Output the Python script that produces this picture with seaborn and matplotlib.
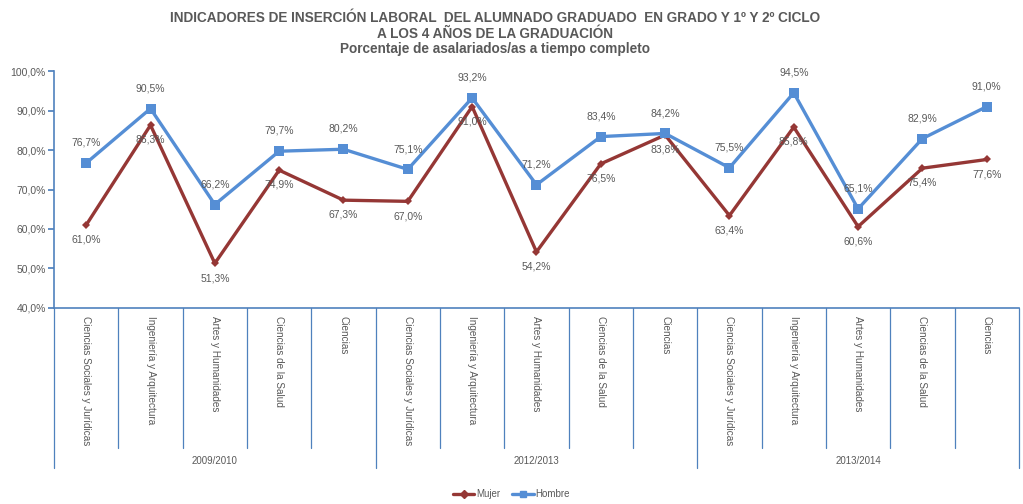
import numpy as np
import pandas as pd
import matplotlib
matplotlib.use("Agg")
import matplotlib.pyplot as plt
import matplotlib.transforms as mtransforms
import seaborn as sns

# datos
cursos = ["2009/2010", "2012/2013", "2013/2014"]
ramas = ["Ciencias Sociales y Jurídicas", "Ingeniería y Arquitectura",
         "Artes y Humanidades", "Ciencias de la Salud", "Ciencias"]
mujer = [61.0, 86.3, 51.3, 74.9, 67.3,
         67.0, 91.0, 54.2, 76.5, 83.8,
         63.4, 85.8, 60.6, 75.4, 77.6]
hombre = [76.7, 90.5, 66.2, 79.7, 80.2,
          75.1, 93.2, 71.2, 83.4, 84.2,
          75.5, 94.5, 65.1, 82.9, 91.0]
yticks = [40, 50, 60, 70, 80, 90, 100]

sns.set_theme(style="white")
plt.rcParams['font.family'] = ['Liberation Sans', 'DejaVu Sans']

GRIS = "#595959"
AZUL_EJE = "#4F81BD"
col_mujer = "#953735"
col_hombre = "#558ED5"

n = len(mujer)
pos = np.arange(n)
df = pd.DataFrame({
    "pos": np.concatenate([pos, pos]),
    "valor": mujer + hombre,
    "sexo": ["Mujer"] * n + ["Hombre"] * n,
})

fig = plt.figure(figsize=(10.23, 5.04), dpi=100)
ax = fig.add_axes([0.0528, 0.389, 0.9432, 0.470])

sns.lineplot(data=df, x="pos", y="valor", hue="sexo", style="sexo",
             palette={"Mujer": col_mujer, "Hombre": col_hombre},
             markers={"Mujer": "D", "Hombre": "s"},
             dashes=False, linewidth=2.4, markeredgewidth=0,
             ax=ax, legend=False)
for line, ms in zip(ax.lines, [4.5, 7.5]):
    line.set_markersize(ms)

# etiquetas de datos
for x, v in zip(pos, hombre):
    ax.annotate(f"{v:.1f}%".replace(".", ","), (x, v), xytext=(0, 11),
                textcoords="offset points", ha="center", va="bottom",
                fontsize=7.5, color=GRIS)
for x, v in zip(pos, mujer):
    ax.annotate(f"{v:.1f}%".replace(".", ","), (x, v), xytext=(0, -7),
                textcoords="offset points", ha="center", va="top",
                fontsize=7.5, color=GRIS)

ax.set_xlim(-0.5, n - 0.5)
ax.set_ylim(40, 100)
ax.set_yticks(yticks)
ax.set_yticklabels([f"{t:.1f}%".replace(".", ",") for t in yticks],
                   fontsize=7.5, color=GRIS)
ax.tick_params(axis="y", length=4, color=AZUL_EJE, direction="out", left=True, pad=2)
ax.set_xticks(pos)
ax.set_xticklabels(ramas * len(cursos), rotation=270, fontsize=7.2,
                   color=GRIS, va="top", ha="center")
ax.tick_params(axis="x", length=0, pad=6)
ax.set_xlabel("")
ax.set_ylabel("")
for s in ["top", "right"]:
    ax.spines[s].set_visible(False)
for s in ["left", "bottom"]:
    ax.spines[s].set_color(AZUL_EJE)
    ax.spines[s].set_linewidth(1.2)

# separadores del eje de categorias
trans = mtransforms.blended_transform_factory(ax.transData, ax.transAxes)
for b in np.arange(-0.5, n, 1.0):
    grupo = (b + 0.5) % len(ramas) == 0
    y0 = -0.675 if grupo else -0.59
    ax.plot([b, b], [0, y0], transform=trans, color=AZUL_EJE,
            linewidth=0.9, clip_on=False)
for i, c in enumerate(cursos):
    ax.text(i * len(ramas) + 2, -0.648, c, transform=trans, ha="center",
            va="center", fontsize=7, color=GRIS)

# titulo
fig.text(0.484, 0.964, "INDICADORES DE INSERCIÓN LABORAL  DEL ALUMNADO GRADUADO  EN GRADO Y 1º Y 2º CICLO",
         ha="center", va="center", fontsize=9.8, fontweight="bold", color=GRIS)
fig.text(0.484, 0.933, "A LOS 4 AÑOS DE LA GRADUACIÓN",
         ha="center", va="center", fontsize=9.8, fontweight="bold", color=GRIS)
fig.text(0.484, 0.902, "Porcentaje de asalariados/as a tiempo completo",
         ha="center", va="center", fontsize=9.8, fontweight="bold", color=GRIS)

handles = [plt.Line2D([], [], color=col_mujer, marker="D", markersize=4, linewidth=2.4),
           plt.Line2D([], [], color=col_hombre, marker="s", markersize=5, linewidth=2.4)]
fig.legend(handles, ["Mujer", "Hombre"], loc="center", bbox_to_anchor=(0.5, 0.02),
           ncol=2, frameon=False, fontsize=7, handlelength=2.2, handletextpad=0.2,
           columnspacing=1.2, labelcolor=GRIS)

fig.savefig("out.png", dpi=100)
